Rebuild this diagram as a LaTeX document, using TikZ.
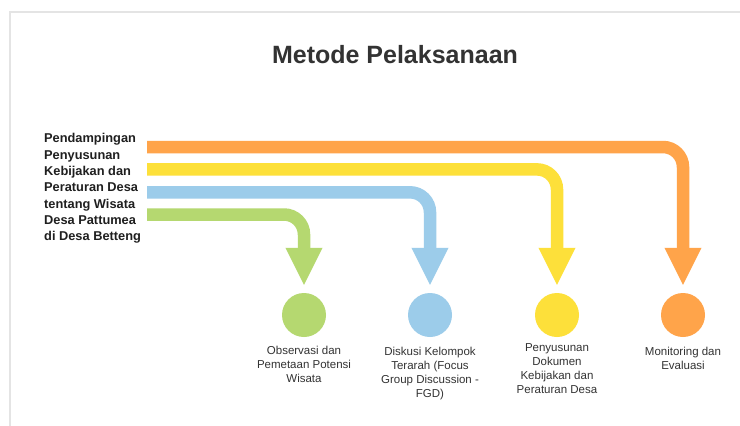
\documentclass[tikz,border=0pt]{standalone}
\usepackage{fontspec}
\setmainfont{Liberation Sans}
\usetikzlibrary{arrows.meta}
\definecolor{cOr}{RGB}{255,164,74}
\definecolor{cYe}{RGB}{253,224,58}
\definecolor{cBl}{RGB}{156,204,234}
\definecolor{cGr}{RGB}{181,216,112}
\definecolor{txt}{RGB}{51,51,51}
\definecolor{frame}{RGB}{228,228,228}
\begin{document}
\begin{tikzpicture}[x=1pt,y=-1pt,
  flow/.style={line width=12.5pt, rounded corners=20pt, -{Triangle[width=34pt,length=38pt]}},
  dot/.style={circle, minimum size=44pt, inner sep=0pt},
  lbl/.style={anchor=north, align=center, inner sep=0pt, font=\fontsize{11.5}{14}\selectfont, text=txt}]
\useasboundingbox (0,0) rectangle (740,426);
\fill[white] (0,0) rectangle (740,426);
\draw[frame, line width=1.2pt] (10,426) -- (10,12) -- (740,12);

\node[font=\bfseries\fontsize{25}{30}\selectfont, text=txt, anchor=base] (title) at (395,63) {Metode Pelaksanaan};

\node[anchor=north west, align=left, inner sep=0pt, text=black!88,
      font=\bfseries\fontsize{12.8}{16.33}\selectfont] (src) at (44,133.4)
  {Pendampingan\\Penyusunan\\Kebijakan dan\\Peraturan Desa\\tentang Wisata\\Desa Pattumea\\di Desa Betteng};

\node[dot, fill=cGr] (cG) at (304,315) {};
\node[dot, fill=cBl] (cB) at (430,315) {};
\node[dot, fill=cYe] (cY) at (557,315) {};
\node[dot, fill=cOr] (cO) at (683,315) {};

\coordinate (sO) at (147,147);
\coordinate (sY) at (147,169.4);
\coordinate (sB) at (147,192.3);
\coordinate (sG) at (147,214.5);

\draw[flow, cOr] (sO) -- (sO -| cO) -- ([yshift=7pt]cO.north);
\draw[flow, cYe] (sY) -- (sY -| cY) -- ([yshift=7pt]cY.north);
\draw[flow, cBl] (sB) -- (sB -| cB) -- ([yshift=7pt]cB.north);
\draw[flow, cGr] (sG) -- (sG -| cG) -- ([yshift=7pt]cG.north);

\node[lbl] (lG) at (304,346) {Observasi dan\\Pemetaan Potensi\\Wisata};
\node[lbl] (lB) at (430,347) {Diskusi Kelompok\\Terarah (Focus\\Group Discussion -\\FGD)};
\node[lbl] (lY) at (557,343) {Penyusunan\\Dokumen\\Kebijakan dan\\Peraturan Desa};
\node[lbl] (lO) at (683,347) {Monitoring dan\\Evaluasi};
\end{tikzpicture}
\end{document}
